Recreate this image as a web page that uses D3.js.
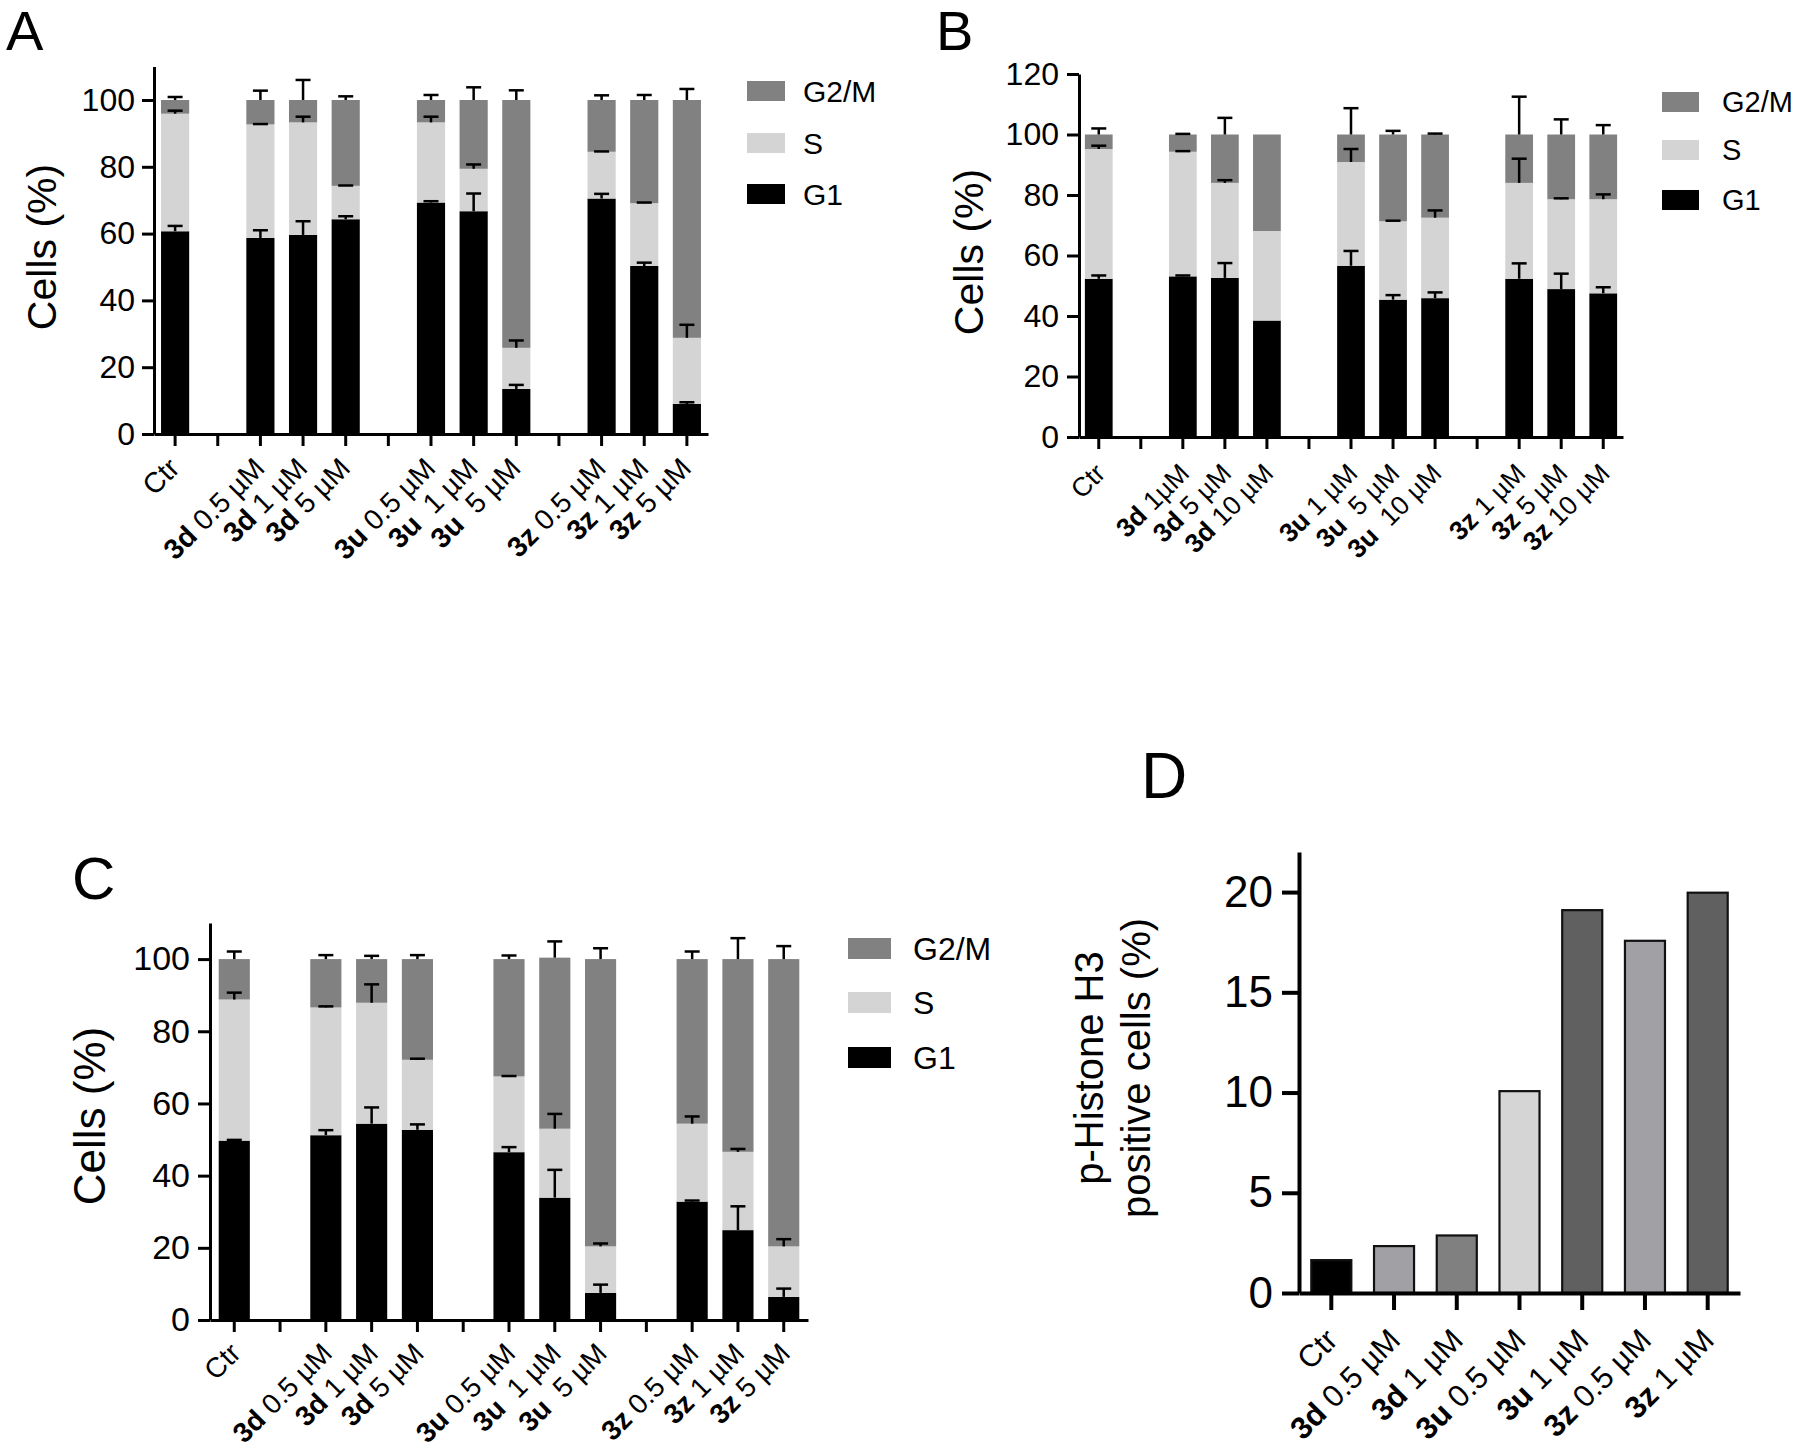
<!DOCTYPE html>
<html><head><meta charset="utf-8">
<script src="https://cdn.jsdelivr.net/npm/d3@7"></script>
<style>
body{margin:0;background:#fff}
svg{display:block}
text{font-family:"Liberation Sans",Arial,Helvetica,sans-serif;fill:#000}
</style>
</head><body>
<svg id="chart" width="1800" height="1453"></svg>
<script>
// ---------------- DATA ----------------
const legendLabels = ["G2/M", "S", "G1"];
const yTitle = "Cells (%)";

// Panel A
const catsA = ["Ctr","gap1","3d 0.5 µM","3d 1 µM","3d 5 µM","gap2","3u 0.5 µM","3u  1 µM","3u  5 µM","gap3","3z 0.5 µM","3z 1 µM","3z 5 µM"];
const g1A   = [60.7, null, 58.7, 59.6, 64.3, null, 69.3, 66.7, 13.5, null, 70.5, 50.3, 9.0];
const g1eA  = [1.6,  null, 2.3,  4.1,  0.9,  null, 0.4,  5.3,  1.2,  null, 1.4,  1.0,  0.5];
const sA    = [35.2, null, 34.0, 33.7, 10.0, null, 24.0, 12.7, 12.3, null, 14.0, 18.8, 19.8];
const seA   = [0.9,  null, 0.1,  1.7,  0.1,  null, 1.7,  1.3,  2.2,  null, 0.1,  0.2,  3.9];
const g2A   = [4.1,  null, 7.3,  6.7,  25.7, null, 6.7,  20.6, 74.2, null, 15.5, 30.9, 71.2];
const g2eA  = [0.9,  null, 2.8,  6.0,  1.1,  null, 1.5,  3.8,  2.9,  null, 1.4,  1.5,  3.3];
const ticksA = [0, 20, 40, 60, 80, 100];

// Panel B
const catsB = ["Ctr","gap1","3d 1µM","3d 5 µM","3d 10 µM","gap2","3u 1 µM","3u  5 µM","3u  10 µM","gap3","3z 1 µM","3z 5 µM","3z 10 µM"];
const g1B   = [52.3, null, 53.1, 52.6, 38.5, null, 56.6, 45.4, 45.9, null, 52.3, 48.9, 47.5];
const g1eB  = [1.1,  null, 0.3,  4.9,  0,    null, 4.9,  1.5,  1.9,  null, 5.1,  5.1,  2.0];
const sB    = [42.9, null, 41.2, 31.4, 29.6, null, 34.3, 25.9, 26.6, null, 31.7, 29.7, 31.1];
const seB   = [1.1,  null, 0.2,  0.9,  0,    null, 4.3,  0.2,  2.4,  null, 8.0,  0.3,  1.6];
const g2B   = [4.8,  null, 5.7,  16.0, 31.9, null, 9.1,  28.7, 27.5, null, 16.0, 21.4, 21.4];
const g2eB  = [2.0,  null, 0.2,  5.5,  0,    null, 8.7,  1.2,  0.3,  null, 12.5, 5.0,  3.1];
const ticksB = [0, 20, 40, 60, 80, 100, 120];

// Panel C
const catsC = ["Ctr","gap1","3d 0.5 µM","3d 1 µM","3d 5 µM","gap2","3u 0.5 µM","3u  1 µM","3u  5 µM","gap3","3z 0.5 µM","3z 1 µM","3z 5 µM"];
const g1C   = [49.7, null, 51.2, 54.4, 52.7, null, 46.5, 33.9, 7.5,  null, 32.8, 24.9, 6.4];
const g1eC  = [0.2,  null, 1.4,  4.5,  1.5,  null, 1.4,  7.7,  2.3,  null, 0.3,  6.6,  2.3];
const sC    = [39.1, null, 35.4, 33.5, 19.4, null, 21.0, 19.1, 12.9, null, 21.6, 21.7, 14.0];
const seC   = [1.9,  null, 0.3,  5.1,  0.3,  null, 0.1,  4.1,  0.8,  null, 2.0,  0.8,  2.0];
const g2C   = [11.2, null, 13.4, 12.1, 27.9, null, 32.5, 47.4, 79.6, null, 45.6, 53.4, 79.6];
const g2eC  = [2.1,  null, 1.1,  0.9,  1.1,  null, 1.0,  4.5,  3.0,  null, 2.1,  5.8,  3.6];
const ticksC = [0, 20, 40, 60, 80, 100];

// Panel D
const catsD = ["Ctr","3d 0.5 µM","3d 1 µM","3u 0.5 µM","3u 1 µM","3z 0.5 µM","3z 1 µM"];
const valsD = [1.64, 2.34, 2.87, 10.07, 19.1, 17.57, 19.97];
const ticksD = [0, 5, 10, 15, 20];
const titleD = ["p-Histone H3", "positive cells (%)"];

// ---------------- STYLE ----------------
const segColors = {G1: "#000000", S: "#d4d4d4", G2M: "#818181"};
const legendKeys = ["G2M", "S", "G1"];
const colorsD = ["#000000", "#a1a1a5", "#808080", "#d5d5d5", "#606060", "#a1a1a5", "#606060"];

const svg = d3.select("#chart");

function addCatLabel(sel, k, lx, ly, fs) {
  if (k.startsWith("gap")) return;
  const t = sel.append("text")
    .attr("text-anchor", "end")
    .attr("transform", `translate(${lx},${ly}) rotate(-45)`)
    .attr("font-size", fs)
    .style("white-space", "pre");
  const m = k.match(/^(3[a-z])(.*)$/);
  if (m) {
    t.append("tspan").attr("font-weight", "bold").text(m[1]);
    t.append("tspan").text(m[2]);
  } else t.text(k);
}

function styleAxis(ga, sw, fs) {
  ga.attr("font-family", null).attr("font-size", fs);
  ga.select(".domain").attr("stroke-width", sw).attr("stroke", "#000");
  ga.selectAll(".tick line").attr("stroke-width", sw).attr("stroke", "#000");
  ga.selectAll(".tick text").attr("fill", "#000");
}

function drawStacked(c) {
  const g = svg.append("g");
  const x = d3.scaleBand().domain(c.cats).range([c.x0, c.x1]).paddingInner(c.pi).paddingOuter(c.po);
  const y = d3.scaleLinear().domain([0, c.yMax]).range([c.yb, c.yt]);
  const rows = c.cats.map((k, i) => ({k, G1: c.g1[i], S: c.s[i], G2M: c.g2[i],
      eG1: c.e1[i], eS: c.e2[i], eG2M: c.e3[i]})).filter(r => r.G1 != null);
  const stack = d3.stack().keys(["G1", "S", "G2M"])(rows);

  stack.forEach(layer => {
    g.append("g").selectAll("rect").data(layer).join("rect")
      .attr("x", d => x(d.data.k)).attr("width", x.bandwidth())
      .attr("y", d => y(d[1])).attr("height", d => y(d[0]) - y(d[1]))
      .attr("fill", segColors[layer.key]);
  });
  const eg = g.append("g").attr("stroke", "#000").attr("stroke-width", 2.5);
  stack.forEach(layer => {
    layer.forEach(d => {
      const e = d.data["e" + layer.key];
      if (!e) return;
      const cx = x(d.data.k) + x.bandwidth() / 2;
      eg.append("line").attr("x1", cx).attr("x2", cx).attr("y1", y(d[1])).attr("y2", y(d[1] + e));
      eg.append("line").attr("x1", cx - c.cap / 2).attr("x2", cx + c.cap / 2)
        .attr("y1", y(d[1] + e)).attr("y2", y(d[1] + e));
    });
  });

  const gy = g.append("g").attr("transform", `translate(${c.x0},0)`)
    .call(d3.axisLeft(y).tickValues(c.ticks).tickSize(c.tick).tickSizeOuter(0).tickPadding(c.tpad));
  styleAxis(gy, 3, c.tfs);

  const gx = g.append("g").attr("transform", `translate(0,${c.yb})`)
    .call(d3.axisBottom(x).tickSize(c.tick).tickSizeOuter(0).tickFormat(""));
  styleAxis(gx, 3, c.lfs);
  gx.selectAll(".tick text").remove();
  gx.selectAll(".tick").each(function (k) { addCatLabel(d3.select(this), k, c.lx, c.ly, c.lfs); });

  legendLabels.forEach((lab, i) => {
    g.append("rect").attr("x", c.lgx).attr("y", c.lgy[i]).attr("width", c.lgw).attr("height", c.lgh)
      .attr("fill", segColors[legendKeys[i]]);
    g.append("text").attr("x", c.lgtx).attr("y", c.lgy[i] + c.lgh / 2).attr("dy", "0.36em")
      .attr("font-size", c.lgfs).text(lab);
  });

  g.append("text").attr("transform", `translate(${c.ttx},${c.tty}) rotate(-90)`)
    .attr("text-anchor", "middle").attr("font-size", c.ttfs)
    .text(yTitle);

  g.append("text").attr("x", c.px).attr("y", c.py).attr("font-size", c.pfs).text(c.panel);
}

drawStacked({panel: "A", px: 6, py: 50, pfs: 56,
  cats: catsA, g1: g1A, s: sA, g2: g2A, e1: g1eA, e2: seA, e3: g2eA, ticks: ticksA, yMax: 110,
  x0: 154, x1: 708, pi: 0.34, po: 0.165, yb: 434, yt: 66.6, tick: 12, tpad: 7, tfs: 32,
  cap: 15, lx: 6, ly: 36, lfs: 28.5,
  lgx: 747, lgy: [81, 133, 184], lgw: 38, lgh: 20, lgtx: 803, lgfs: 30,
  ttx: 56, tty: 247, ttfs: 41});

drawStacked({panel: "B", px: 936, py: 50, pfs: 56,
  cats: catsB, g1: g1B, s: sB, g2: g2B, e1: g1eB, e2: seB, e3: g2eB, ticks: ticksB, yMax: 120,
  x0: 1079, x1: 1623, pi: 0.34, po: 0.14, yb: 437, yt: 74, tick: 12, tpad: 8, tfs: 32,
  cap: 15, lx: 8, ly: 38, lfs: 26.5,
  lgx: 1662, lgy: [92, 140, 190], lgw: 37, lgh: 20, lgtx: 1722, lgfs: 29,
  ttx: 983, tty: 252, ttfs: 41});

drawStacked({panel: "C", px: 72, py: 899, pfs: 60,
  cats: catsC, g1: g1C, s: sC, g2: g2C, e1: g1eC, e2: seC, e3: g2eC, ticks: ticksC, yMax: 110,
  x0: 210, x1: 808, pi: 0.32, po: 0.19, yb: 1320, yt: 923, tick: 12, tpad: 8, tfs: 34,
  cap: 15, lx: 8, ly: 35, lfs: 28,
  lgx: 848, lgy: [938, 992, 1047], lgw: 43, lgh: 21, lgtx: 913, lgfs: 32,
  ttx: 105, tty: 1116, ttfs: 44});

// Panel D
(function () {
  const g = svg.append("g");
  const x = d3.scaleBand().domain(catsD).range([1299, 1740]).paddingInner(0.33).paddingOuter(0.18);
  const y = d3.scaleLinear().domain([0, 22]).range([1293, 852]);
  g.append("g").selectAll("rect").data(valsD).join("rect")
    .attr("x", (d, i) => x(catsD[i]) + 1).attr("width", x.bandwidth() - 2)
    .attr("y", d => y(d)).attr("height", d => y(0) - y(d))
    .attr("fill", (d, i) => colorsD[i]).attr("stroke", "#111").attr("stroke-width", 2.2);
  const gy = g.append("g").attr("transform", "translate(1299,0)")
    .call(d3.axisLeft(y).tickValues(ticksD).tickSize(17).tickSizeOuter(0).tickPadding(9));
  styleAxis(gy, 4, 44);
  const gx = g.append("g").attr("transform", "translate(0,1293)")
    .call(d3.axisBottom(x).tickSize(17).tickSizeOuter(0).tickFormat(""));
  styleAxis(gx, 4, 31);
  gx.selectAll(".tick text").remove();
  gx.selectAll(".tick").each(function (k) { addCatLabel(d3.select(this), k, 8, 49, 31); });
  const t = g.append("g").attr("font-size", 40);
  t.append("text").attr("transform", "translate(1103,1068) rotate(-90)").attr("text-anchor", "middle").text(titleD[0]);
  t.append("text").attr("transform", "translate(1150,1068) rotate(-90)").attr("text-anchor", "middle").text(titleD[1]);
  g.append("text").attr("x", 1141).attr("y", 798).attr("font-size", 64).text("D");
})();
</script>
</body></html>
